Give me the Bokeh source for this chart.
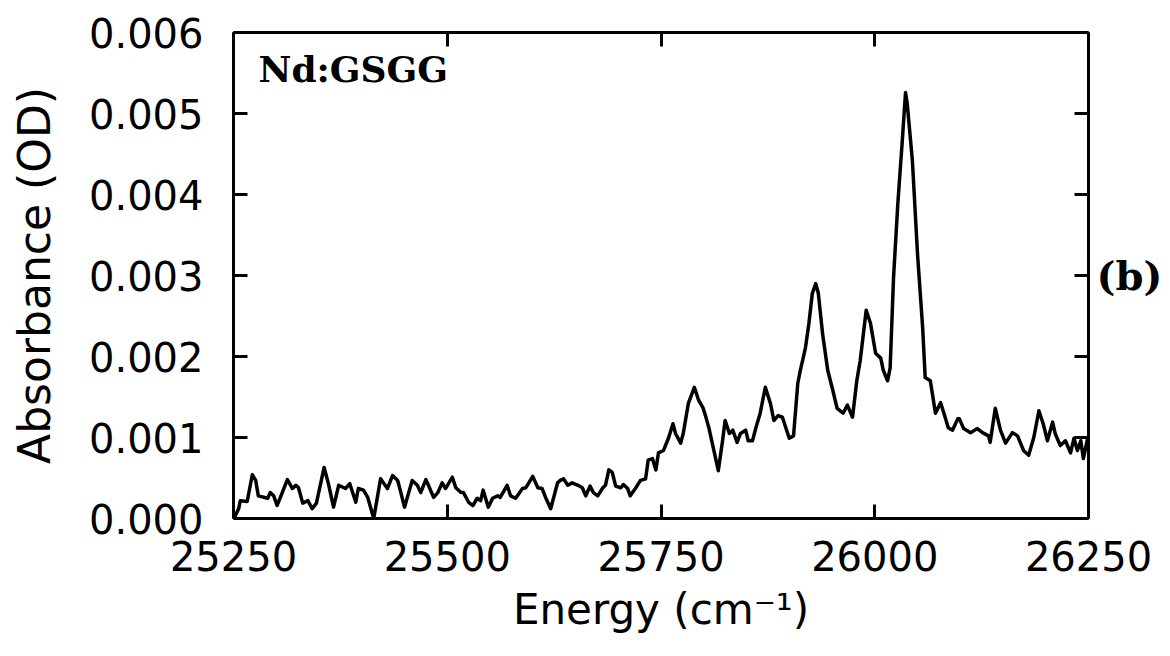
from bokeh.plotting import figure
from bokeh.models import (LinearAxis, FixedTicker, PrintfTickFormatter, Label,
                          Range1d, ColumnDataSource)
from bokeh.embed import file_html
from bokeh.resources import INLINE

# Absorption spectrum of Nd:GSGG
energy = [
    25251, 25256, 25258, 25266, 25272, 25276, 25279, 25290, 25293, 25297,
    25301, 25307, 25313, 25319, 25323, 25326, 25331, 25337, 25342, 25347,
    25356, 25361, 25367, 25373, 25381, 25386, 25393, 25396, 25402, 25407,
    25414, 25422, 25430, 25436, 25442, 25445, 25450, 25459, 25465, 25469,
    25475, 25478, 25484, 25489, 25494, 25498, 25506, 25510, 25516, 25519,
    25525, 25530, 25535, 25539, 25542, 25548, 25553, 25559, 25562, 25570,
    25574, 25580, 25588, 25592, 25600, 25606, 25611, 25615, 25621, 25629,
    25632, 25636, 25641, 25646, 25653, 25658, 25662, 25667, 25671, 25676,
    25682, 25685, 25689, 25693, 25697, 25703, 25706, 25711, 25714, 25720,
    25726, 25732, 25735, 25740, 25744, 25747, 25753, 25759, 25764, 25767,
    25773, 25776, 25782, 25789, 25794, 25799, 25802, 25806, 25811, 25817,
    25822, 25825, 25830, 25834, 25839, 25843, 25849, 25852, 25857, 25861,
    25866, 25872, 25878, 25882, 25887, 25892, 25896, 25900, 25905, 25910,
    25913, 25919, 25923, 25927, 25931, 25934, 25939, 25945, 25951, 25956,
    25963, 25968, 25974, 25979, 25983, 25990, 25995, 26001, 26007, 26010,
    26015, 26018, 26022, 26027, 26032, 26036, 26038, 26044, 26050, 26056,
    26059, 26065, 26071, 26077, 26080, 26086, 26091, 26097, 26099, 26104,
    26112, 26120, 26126, 26133, 26135, 26141, 26147, 26153, 26161, 26167,
    26174, 26180, 26186, 26192, 26197, 26202, 26208, 26211, 26217, 26223,
    26229, 26233, 26237, 26241, 26244, 26249,
]

absorbance = [
    0.00001, 0.00012, 0.00022, 0.00021, 0.00054, 0.00047, 0.00028, 0.00025, 0.00032, 0.00028,
    0.00016, 0.00032, 0.00048, 0.00037, 0.00041, 0.00038, 0.00019, 0.00022, 0.00012, 0.00019,
    0.00063, 0.00043, 0.00014, 0.00041, 0.00037, 0.00043, 0.00020, 0.00037, 0.00035, 0.00026,
    0.00000, 0.00049, 0.00037, 0.00053, 0.00047, 0.00035, 0.00014, 0.00047, 0.00041, 0.00032,
    0.00048, 0.00041, 0.00026, 0.00032, 0.00044, 0.00037, 0.00051, 0.00038, 0.00032, 0.00032,
    0.00020, 0.00016, 0.00025, 0.00022, 0.00035, 0.00014, 0.00025, 0.00028, 0.00026, 0.00041,
    0.00028, 0.00025, 0.00037, 0.00038, 0.00052, 0.00038, 0.00037, 0.00026, 0.00012, 0.00044,
    0.00047, 0.00049, 0.00041, 0.00044, 0.00041, 0.00038, 0.00028, 0.00040, 0.00032, 0.00028,
    0.00038, 0.00041, 0.00060, 0.00057, 0.00040, 0.00038, 0.00042, 0.00037, 0.00028, 0.00037,
    0.00047, 0.00049, 0.00072, 0.00074, 0.00060, 0.00081, 0.00084, 0.00100, 0.00117, 0.00105,
    0.00093, 0.00105, 0.00142, 0.00162, 0.00146, 0.00137, 0.00127, 0.00112, 0.00088, 0.00059,
    0.00096, 0.00121, 0.00105, 0.00109, 0.00094, 0.00105, 0.00109, 0.00096, 0.00096, 0.00112,
    0.00130, 0.00162, 0.00142, 0.00121, 0.00127, 0.00125, 0.00112, 0.00099, 0.00102, 0.00167,
    0.00183, 0.00211, 0.00241, 0.00278, 0.00290, 0.00278, 0.00228, 0.00183, 0.00158, 0.00136,
    0.00130, 0.00140, 0.00125, 0.00170, 0.00195, 0.00257, 0.00241, 0.00204, 0.00198, 0.00183,
    0.00170, 0.00186, 0.00298, 0.00389, 0.00463, 0.00526, 0.00512, 0.00442, 0.00327, 0.00236,
    0.00174, 0.00170, 0.00130, 0.00143, 0.00133, 0.00112, 0.00109, 0.00123, 0.00123, 0.00111,
    0.00106, 0.00111, 0.00106, 0.00102, 0.00094, 0.00136, 0.00109, 0.00093, 0.00106, 0.00102,
    0.00084, 0.00078, 0.00100, 0.00133, 0.00117, 0.00096, 0.00119, 0.00105, 0.00090, 0.00096,
    0.00081, 0.00099, 0.00084, 0.00096, 0.00074, 0.00099,
]

x_ticks = [25250, 25500, 25750, 26000, 26250]
y_ticks = [0.000, 0.001, 0.002, 0.003, 0.004, 0.005, 0.006]

SANS = "DejaVu Sans"
SERIF = "DejaVu Serif"

p = figure(
    width=1170, height=656,
    x_range=Range1d(25250, 26250), y_range=Range1d(0.0, 0.006),
    output_backend="svg", toolbar_location=None,
    x_axis_location=None, y_axis_location=None,
    min_border_left=233, min_border_right=82,
    min_border_top=32, min_border_bottom=138,
)
p.outline_line_color = None
p.grid.visible = False
p.background_fill_color = "white"
p.border_fill_color = "white"


def frame_axis(ticks, fmt, show_labels):
    ax = LinearAxis(
        ticker=FixedTicker(ticks=ticks),
        formatter=PrintfTickFormatter(format=fmt),
        axis_line_color="black", axis_line_width=3,
        major_tick_line_color="black", major_tick_line_width=3,
        major_tick_in=14, major_tick_out=0,
        minor_tick_line_color=None,
        major_label_text_font=SANS,
        major_label_text_color="black",
        major_label_text_font_size="40px",
    )
    if not show_labels:
        # tick marks only on the opposite frame edges
        ax.major_label_overrides = {t: "" for t in ticks}
        ax.major_label_text_color = None
        ax.major_label_text_font_size = "10px"
        ax.major_label_standoff = 0
    return ax


bottom = frame_axis(x_ticks, "%d", True)
bottom.major_label_standoff = 22
bottom.axis_label = "Energy (cm\u207b\u00b9)"
bottom.axis_label_text_font = SANS
bottom.axis_label_text_font_style = "normal"
bottom.axis_label_text_font_size = "42px"
bottom.axis_label_text_color = "black"
bottom.axis_label_standoff = 11
p.add_layout(bottom, "below")

left = frame_axis(y_ticks, "%.3f", True)
left.major_label_standoff = 30
left.axis_label = "Absorbance (OD)"
left.axis_label_text_font = SANS
left.axis_label_text_font_style = "normal"
left.axis_label_text_font_size = "44px"
left.axis_label_text_color = "black"
left.axis_label_standoff = 26
p.add_layout(left, "left")

top = frame_axis(x_ticks, "%d", False)
p.add_layout(top, "above")

right = frame_axis(y_ticks, "%.3f", False)
right.axis_label = "(b)"
right.axis_label_orientation = "horizontal"
right.axis_label_text_font = SERIF
right.axis_label_text_font_style = "bold"
right.axis_label_text_font_size = "40px"
right.axis_label_text_color = "black"
right.axis_label_text_baseline = "top"
right.axis_label_standoff = 8
p.add_layout(right, "right")

src = ColumnDataSource(data=dict(energy=energy, absorbance=absorbance))
p.line("energy", "absorbance", source=src, line_color="black", line_width=3.5,
       line_join="round")

# Sample name inside the frame
p.add_layout(Label(x=25, y=450, x_units="screen", y_units="screen",
                   text="Nd:GSGG", text_font=SERIF, text_font_style="bold",
                   text_font_size="36px", text_color="black",
                   text_baseline="middle", text_align="left"))

open("out.html", "w").write(file_html(p, INLINE))
